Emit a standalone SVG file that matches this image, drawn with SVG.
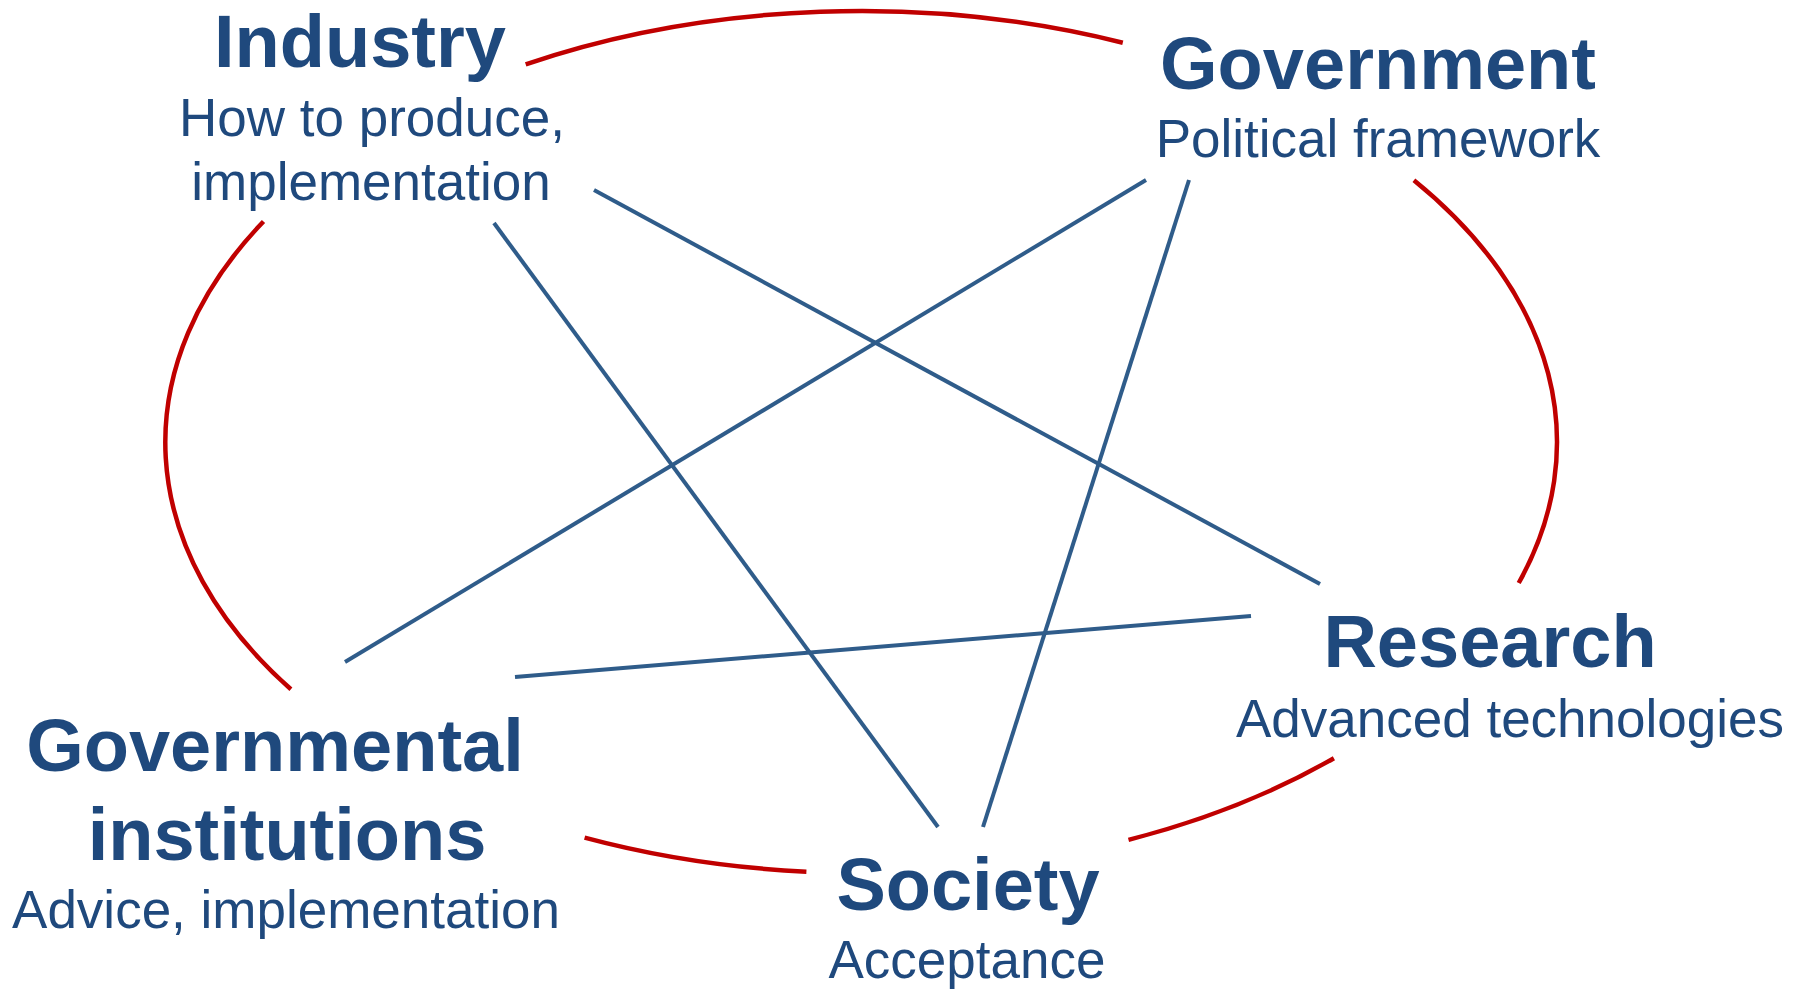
<svg xmlns="http://www.w3.org/2000/svg" width="1800" height="990" viewBox="0 0 1800 990">
<style>
.title{font-family:"Liberation Sans",Arial,sans-serif;font-weight:bold;font-size:74px;fill:#1F497D;text-anchor:middle}
.sub{font-family:"Liberation Sans",Arial,sans-serif;font-size:53px;fill:#1F497D;text-anchor:middle}
.red{fill:none;stroke:#C00000;stroke-width:4.5}
.blue{fill:none;stroke:#2F5C8A;stroke-width:4}
</style>
<rect width="1800" height="990" fill="#ffffff"/>
<g id="connectors">
<path class="red" d="M525.7,64.3 A696,431 0 0 1 1122.8,42.7"/>
<path class="red" d="M1413.9,180.2 A696,431 0 0 1 1518.7,583"/>
<path class="red" d="M1333.9,758.2 A696,431 0 0 1 1128.5,839.9"/>
<path class="red" d="M806.4,871.7 A696,431 0 0 1 584.6,837.6"/>
<path class="red" d="M290.9,689.2 A696,431 0 0 1 263.5,221.5"/>
<line class="blue" x1="494" y1="223" x2="938" y2="827"/>
<line class="blue" x1="594" y1="190" x2="1320" y2="584"/>
<line class="blue" x1="1146" y1="180" x2="345" y2="662"/>
<line class="blue" x1="1189" y1="180" x2="983" y2="827"/>
<line class="blue" x1="1251" y1="616" x2="515" y2="677"/>
</g>
<g id="industry">
<text class="title" x="360" y="67">Industry</text>
<text class="sub" x="372" y="136">How to produce,</text>
<text class="sub" x="371" y="200">implementation</text>
</g>
<g id="government">
<text class="title" x="1378" y="89">Government</text>
<text class="sub" x="1378" y="157">Political framework</text>
</g>
<g id="research">
<text class="title" x="1490" y="667">Research</text>
<text class="sub" x="1510" y="737">Advanced technologies</text>
</g>
<g id="society">
<text class="title" x="968" y="910">Society</text>
<text class="sub" x="967" y="978">Acceptance</text>
</g>
<g id="governmental-institutions">
<text class="title" x="275" y="771">Governmental</text>
<text class="title" x="287" y="860">institutions</text>
<text class="sub" x="286" y="928">Advice, implementation</text>
</g>
</svg>
